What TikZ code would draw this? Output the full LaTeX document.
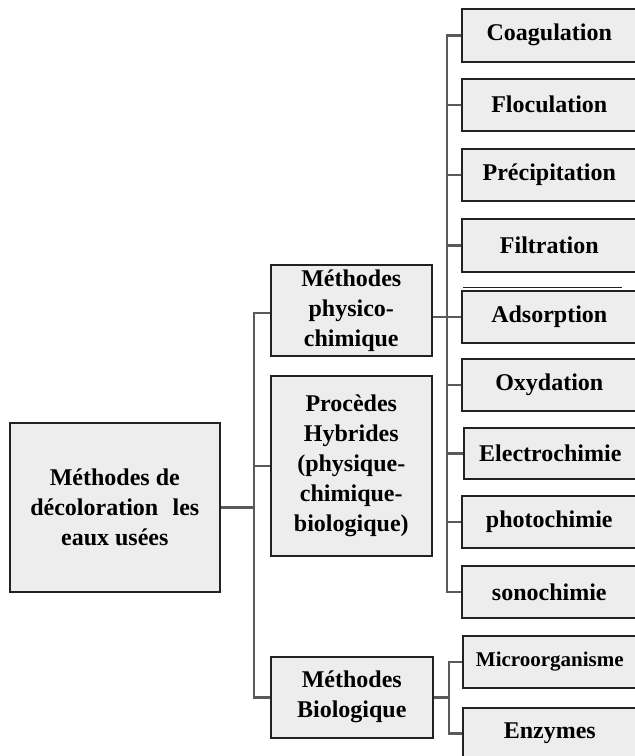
\documentclass[tikz,border=0pt]{standalone}
\usepackage{fontspec}
\setmainfont{Liberation Serif}
\definecolor{boxfill}{HTML}{EDEDED}
\definecolor{boxline}{HTML}{222222}
\definecolor{linkline}{HTML}{5A5A5A}
\tikzset{
  box/.style={draw=boxline, line width=1.6pt, fill=boxfill, inner sep=0pt,
    anchor=north west, align=center, font=\fontsize{24}{30}\selectfont\bfseries},
  leaf/.style={box, minimum width=175pt},
  conn/.style={draw=linkline, line width=2.6pt}
}
\begin{document}
\begin{tikzpicture}[x=1pt, y=-1pt]
\useasboundingbox (0,0) rectangle (635,756);

% root and the three families of methods
\node[box, minimum width=210pt, minimum height=169pt] (main) at (9,422)
  {Méthodes de\\décoloration\hspace{0.35em} les\\eaux usées};
\node[box, minimum width=161pt, minimum height=91pt] (phys) at (270,264)
  {Méthodes\\physico-\\chimique};
\node[box, minimum width=161pt, minimum height=180pt] (hyb) at (270,375)
  {Procèdes\\Hybrides\\(physique-\\chimique-\\biologique)};
\node[box, minimum width=162pt, minimum height=81pt] (bio) at (270,656)
  {Méthodes\\Biologique};

% physico-chemical techniques
\node[leaf, minimum height=53pt] (coag) at (461,8) {Coagulation};
\node[leaf, minimum height=52pt] (floc) at (461,78) {Floculation};
\node[leaf, minimum height=52pt] (prec) at (461,148) {Précipitation};
\node[leaf, minimum height=53pt] (filt) at (461,218) {Filtration};
\node[leaf, minimum height=52pt] (ads) at (461,290) {Adsorption};
\node[leaf, minimum height=52pt] (oxy) at (461,358) {Oxydation};
\node[leaf, minimum width=173pt, minimum height=51pt] (elec) at (463,427) {Electrochimie};
\node[leaf, minimum height=52pt] (photo) at (461,495) {photochimie};
\node[leaf, minimum height=52pt] (sono) at (461,565) {sonochimie};

% biological techniques
\node[leaf, minimum width=174pt, minimum height=52pt, font=\fontsize{21}{26}\selectfont\bfseries]
  (micro) at (462,635) {Microorganisme};
\node[leaf, minimum width=174pt, minimum height=51pt] (enz) at (462,707) {Enzymes};

% thin rule over the Adsorption box
\draw[boxline, line width=1pt] ([yshift=3pt, xshift=2pt]ads.north west) -- ++(159,0);

% trunk from the root to the families
\coordinate (s) at (254,0);
\draw[conn] (main.east) -- (main.east -| s);
\draw[conn] (phys.west |- 0,313) -- (s |- 0,313) -- (s |- bio.west) -- (bio.west);
\draw[conn] (hyb.west) -- (hyb.west -| s);

% physico-chemical branch
\coordinate (r) at (447,0);
\draw[conn] (coag.west) -- (coag.west -| r) -- (sono.west -| r) -- (sono.west);
\foreach \n in {floc,prec,filt,ads,oxy,elec,photo}
  \draw[conn] (\n.west) -- (\n.west -| r);
\draw[conn] (phys.east |- ads.west) -- (r |- ads.west);

% biological branch
\coordinate (b) at (449,0);
\draw[conn] (bio.east) -- (bio.east -| b);
\draw[conn] (micro.west) -- (micro.west -| b) -- (enz.west -| b) -- (enz.west);
\end{tikzpicture}
\end{document}
